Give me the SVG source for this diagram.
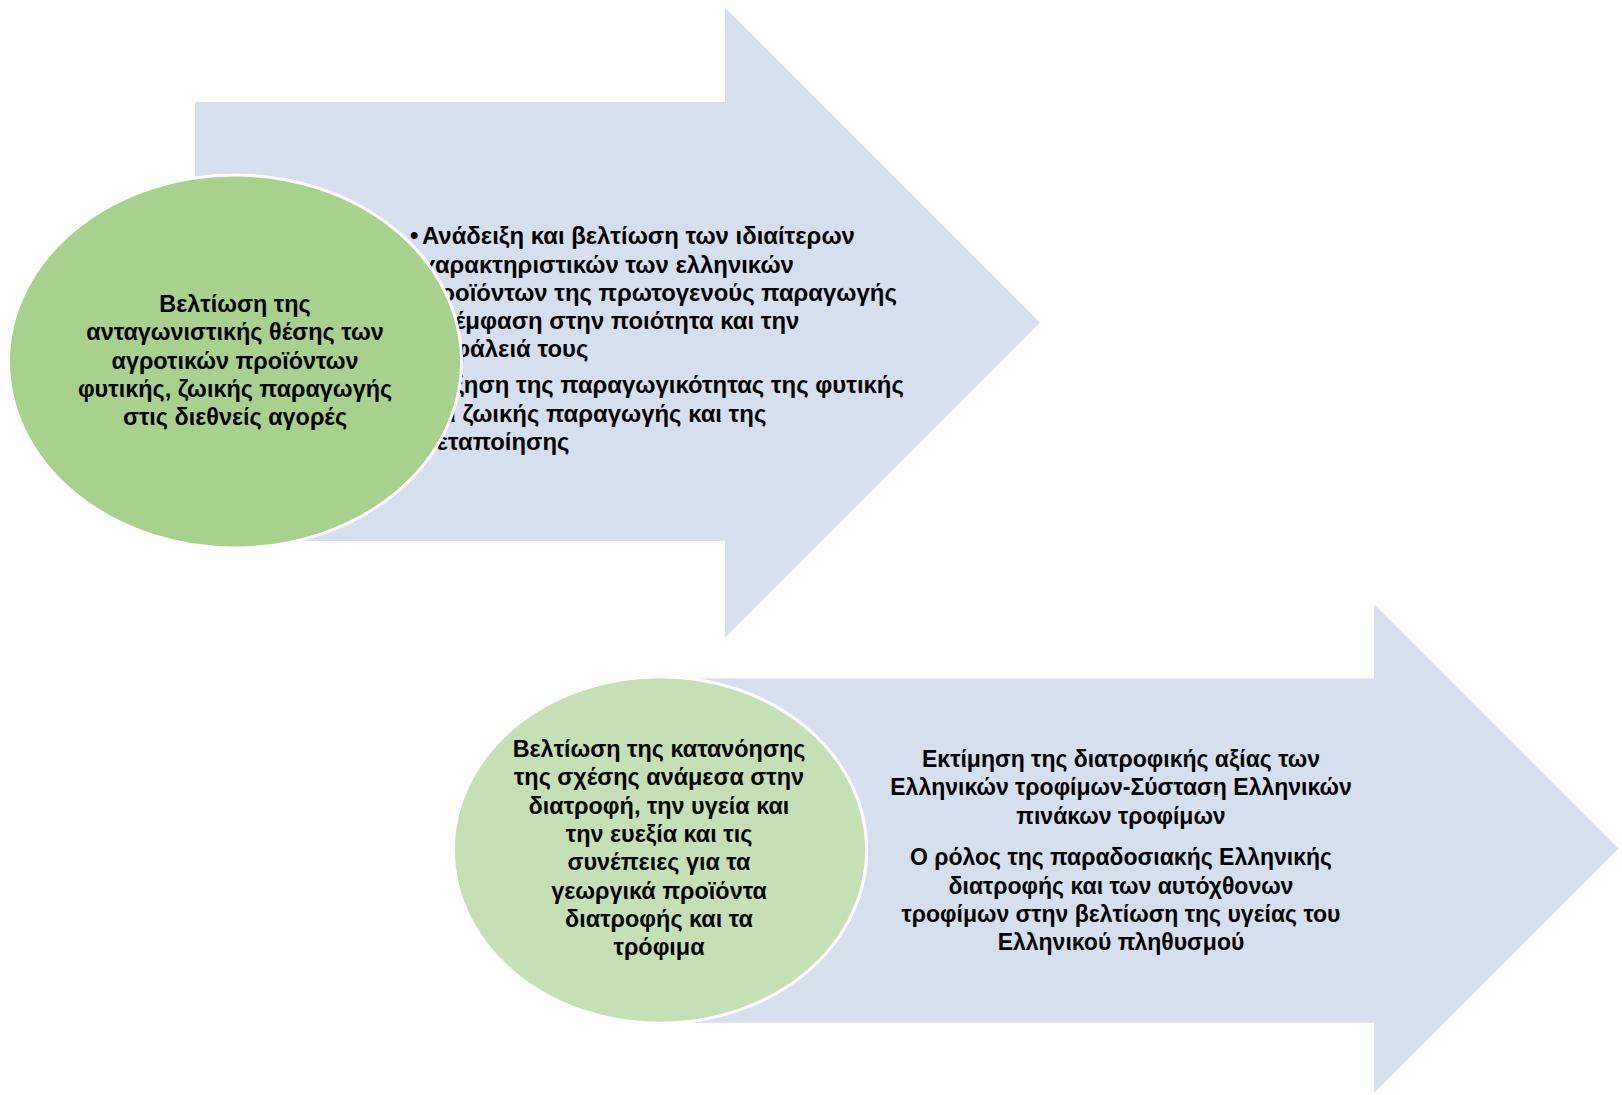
<svg xmlns="http://www.w3.org/2000/svg" width="1622" height="1095" viewBox="0 0 1622 1095">
<style>
.arrow{fill:#D6DFEE;stroke:none}
.oval{stroke:#FFFFFF;stroke-width:3}
.g1{fill:#A9D18E}
.g2{fill:#C5E0B4}
text{font-family:"Liberation Sans","Noto Sans",sans-serif;font-weight:bold;font-size:23.4px;fill:#000000}
.b{font-size:23.9px}
.r{font-size:23px}
.c{text-anchor:middle}
</style>
<rect width="1622" height="1095" fill="#FFFFFF"/>
<g id="arrow-top">
<polygon class="arrow" points="195,102 725,102 725,7.5 1040,322.5 725,637.5 725,541 195,541"/>
<text class="b" x="410" y="244">•</text>
<text class="b" x="422" y="244">Ανάδειξη και βελτίωση των ιδιαίτερων</text>
<text class="b" x="422" y="272.5">χαρακτηριστικών των ελληνικών</text>
<text class="b" x="422" y="301">προϊόντων της πρωτογενούς παραγωγής</text>
<text class="b" x="422" y="329">με έμφαση στην ποιότητα και την</text>
<text class="b" x="422" y="357">ασφάλειά τους</text>
<text class="b" x="410" y="393">•</text>
<text class="b" x="422" y="393">Αύξηση της παραγωγικότητας της φυτικής</text>
<text class="b" x="422" y="421.5">και ζωικής παραγωγής και της</text>
<text class="b" x="422" y="450">μεταποίησης</text>
</g>
<g id="oval-top">
<ellipse class="oval g1" cx="235" cy="361.5" rx="226.5" ry="186.5"/>
<text class="c" x="235" y="311.5">Βελτίωση της</text>
<text class="c" x="235" y="340">ανταγωνιστικής θέσης των</text>
<text class="c" x="235" y="368.5">αγροτικών προϊόντων</text>
<text class="c" x="235" y="397">φυτικής, ζωικής παραγωγής</text>
<text class="c" x="235" y="425">στις διεθνείς αγορές</text>
</g>
<g id="arrow-bottom">
<polygon class="arrow" points="660,678.5 1374,678.5 1374,604 1618.5,848.5 1374,1093 1374,1022.7 660,1022.7"/>
<text class="c r" x="1121" y="766.5">Εκτίμηση της διατροφικής αξίας των</text>
<text class="c r" x="1121" y="795">Ελληνικών τροφίμων-Σύσταση Ελληνικών</text>
<text class="c r" x="1121" y="823.5">πινάκων τροφίμων</text>
<text class="c r" x="1121" y="865">Ο ρόλος της παραδοσιακής Ελληνικής</text>
<text class="c r" x="1121" y="893.5">διατροφής και των αυτόχθονων</text>
<text class="c r" x="1121" y="921.5">τροφίμων στην βελτίωση της υγείας του</text>
<text class="c r" x="1121" y="950">Ελληνικού πληθυσμού</text>
</g>
<g id="oval-bottom">
<ellipse class="oval g2" cx="660" cy="850" rx="206.7" ry="173.3"/>
<text class="c" x="659" y="757">Βελτίωση της κατανόησης</text>
<text class="c" x="659" y="785">της σχέσης ανάμεσα στην</text>
<text class="c" x="659" y="813.5">διατροφή, την υγεία και</text>
<text class="c" x="659" y="842">την ευεξία και τις</text>
<text class="c" x="659" y="870">συνέπειες για τα</text>
<text class="c" x="659" y="898.5">γεωργικά προϊόντα</text>
<text class="c" x="659" y="927">διατροφής και τα</text>
<text class="c" x="659" y="955">τρόφιμα</text>
</g>
<g id="connectors"></g>
</svg>
